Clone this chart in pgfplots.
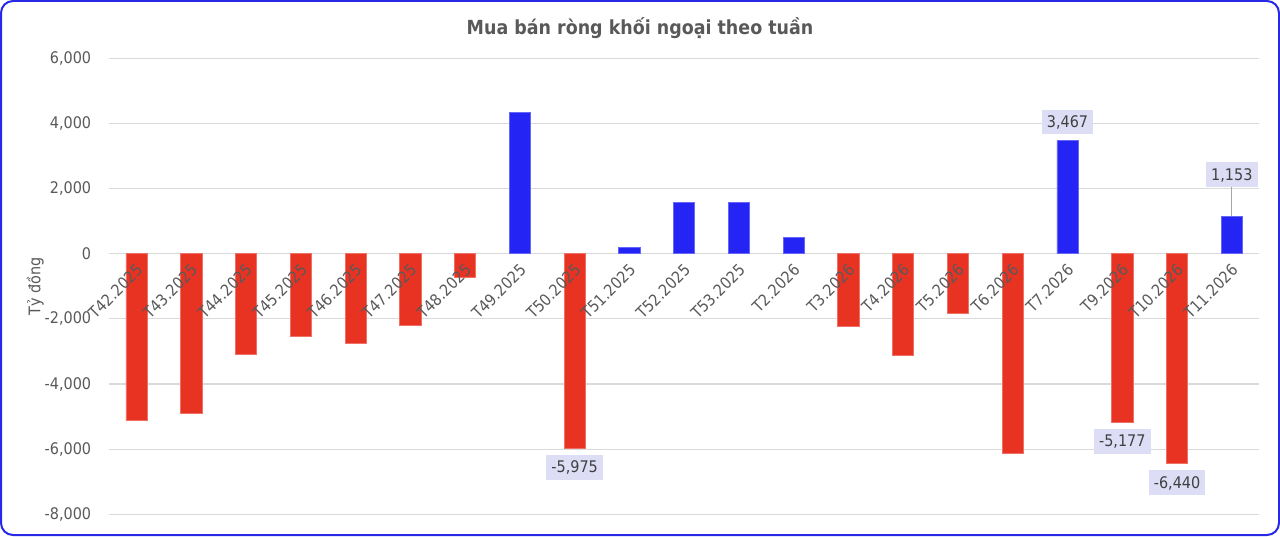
\documentclass[border=0pt]{standalone}
\usepackage{fontspec}
\setmainfont[FakeStretch=0.9]{DejaVu Sans}
\usepackage{pgfplots}
\pgfplotsset{compat=1.18}

\definecolor{netSell}{HTML}{E83323}
\definecolor{netBuy}{HTML}{2424F5}
\definecolor{frameBlue}{HTML}{2828E6}
\definecolor{labelBg}{HTML}{DDDDF5}
\definecolor{txtGray}{HTML}{595959}
\definecolor{gridGray}{HTML}{DADADA}

\tikzset{lbl/.style={fill=labelBg, text=black!75, inner xsep=2.6pt, inner ysep=3.3pt, text height=5.8pt, text depth=0pt, font=\fontsize{8}{9.6}\selectfont}}

% same frame for both axes (1 px of the reference = 0.5pt)
\pgfplotsset{weekframe/.style={
  at={(54.6pt,10.85pt)},
  anchor=south west,
  scale only axis,
  width=575pt,
  height=228pt,
  xmin=-0.5, xmax=20.5,
  ymin=-8000, ymax=6000,
  axis line style={draw=none},
  major tick length=0pt,
  tick label style={font=\fontsize{8}{9.6}\selectfont, text=txtGray},
  clip=false,
}}

\begin{document}
\begin{tikzpicture}
\draw[frameBlue, line width=1pt, rounded corners=6pt] (0.5pt,0.5pt) rectangle (639.5pt,267.5pt);
\node[font=\bfseries\fontsize{9.7}{11}\selectfont, text=txtGray] at (320pt,254pt) {Mua bán ròng khối ngoại theo tuần};

\begin{axis}[
  weekframe,
  xtick=\empty,
  ytick={-8000,-6000,-4000,-2000,0,2000,4000,6000},
  yticklabels={{-8,000},{-6,000},{-4,000},{-2,000},0,{2,000},{4,000},{6,000}},
  ymajorgrids,
  grid style={draw=gridGray, line width=0.6pt},
  yticklabel style={xshift=-5.5pt},
  ylabel={Tỷ đồng},
  every axis y label/.style={at={(rel axis cs:0,0.5)}, xshift=-37pt, rotate=90,
    font=\fontsize{8}{9.6}\selectfont, text=txtGray},
]
% net selling weeks
\addplot[ybar, bar width=10.6pt, bar shift=0pt, fill=netSell, draw=netSell!70!white, line width=0.4pt]
  coordinates {(0,-5120) (1,-4905) (2,-3077) (3,-2535) (4,-2751) (5,-2206) (6,-738) (8,-5975) (13,-2234) (14,-3128) (15,-1827) (16,-6145) (18,-5177) (19,-6440)};
% net buying weeks
\addplot[ybar, bar width=10.6pt, bar shift=0pt, fill=netBuy, draw=netBuy!70!white, line width=0.4pt]
  coordinates {(7,4335) (9,185) (10,1575) (11,1575) (12,486) (17,3467) (20,1153)};

% leader line for the last label
\addplot[gray!70, line width=0.5pt, mark=none] coordinates {(20,1153) (20,2040)};

% data labels
\addplot[draw=none, mark=none, point meta=explicit symbolic,
  nodes near coords, nodes near coords style={lbl, anchor=north, yshift=-3pt}]
  table[meta=lab] {
x y lab
8 -5975 -5,975
18 -5177 -5,177
19 -6440 -6,440
};
\addplot[draw=none, mark=none, point meta=explicit symbolic,
  nodes near coords, nodes near coords style={lbl, anchor=south, yshift=3pt}]
  table[meta=lab] {
x y lab
17 3467 3,467
};
\addplot[draw=none, mark=none, point meta=explicit symbolic,
  nodes near coords, nodes near coords style={lbl, anchor=south}]
  table[meta=lab] {
x y lab
20 2040 1,153
};
\end{axis}

% second pass: week labels drawn over the bars
\begin{axis}[
  weekframe,
  ytick=\empty,
  xtick={0,...,20},
  xticklabels={T42.2025,T43.2025,T44.2025,T45.2025,T46.2025,T47.2025,T48.2025,T49.2025,T50.2025,T51.2025,T52.2025,T53.2025,T2.2026,T3.2026,T4.2026,T5.2026,T6.2026,T7.2026,T9.2026,T10.2026,T11.2026},
  xticklabel style={xshift=4pt, yshift=126pt, rotate=45, anchor=east},
]
\end{axis}
\end{tikzpicture}
\end{document}
